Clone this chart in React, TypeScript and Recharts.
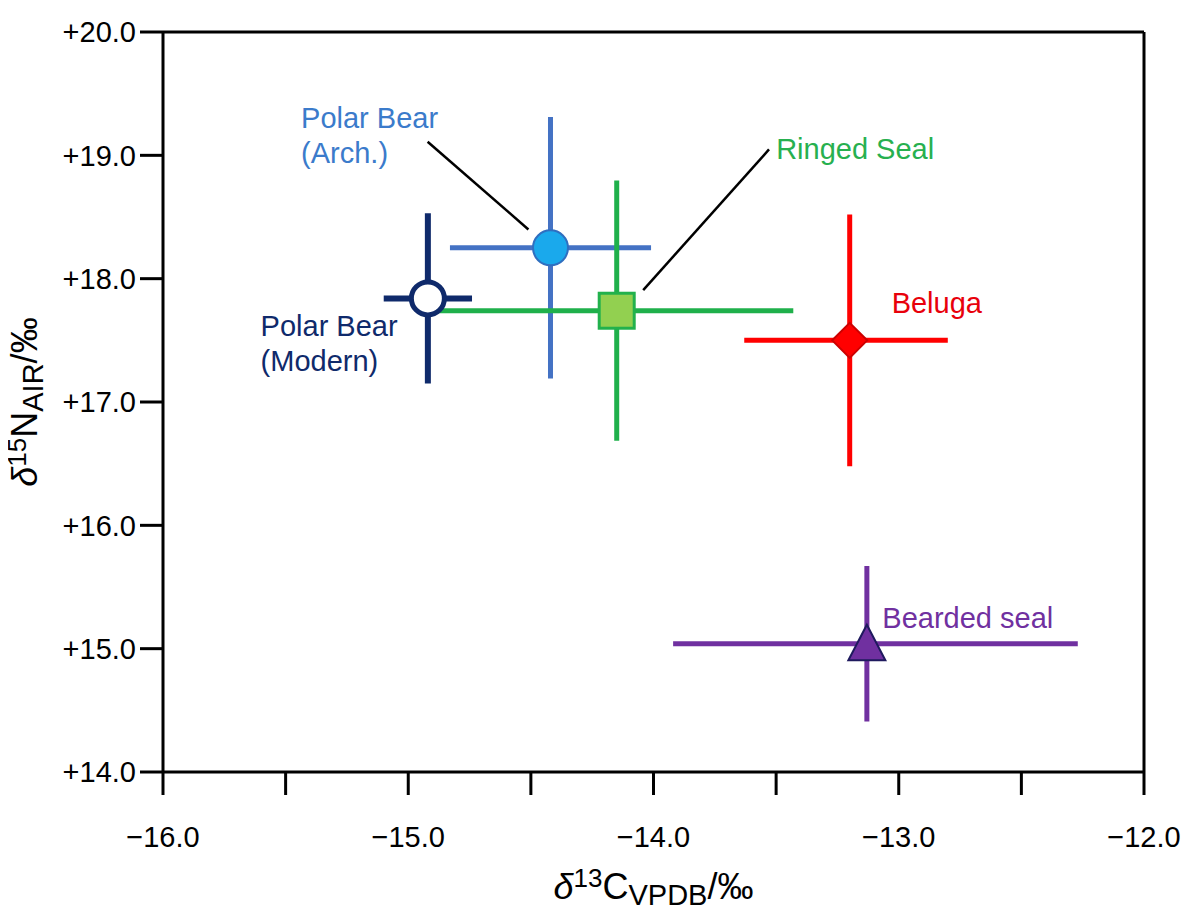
import React from 'react';
import { ScatterChart, Scatter, XAxis, YAxis, ErrorBar, ReferenceLine, ReferenceDot } from 'recharts';

// ---------- data ----------
const speciesNames = ['Polar Bear (Arch.)', 'Ringed Seal', 'Polar Bear (Modern)', 'Beluga', 'Bearded seal'];
const carbonMeans = [-14.42, -14.15, -14.92, -13.2, -13.13];
const carbonErrors: [number, number][] = [[0.41, 0.41], [0.74, 0.72], [0.18, 0.18], [0.43, 0.4], [0.79, 0.86]];
const nitrogenMeans = [18.25, 17.74, 17.84, 17.5, 15.04];
const nitrogenErrors = [1.06, 1.055, 0.69, 1.02, 0.63];

const xTicks = [-16, -15.5, -15, -14.5, -14, -13.5, -13, -12.5, -12];
const xTickLabels = ['−16.0', '', '−15.0', '', '−14.0', '', '−13.0', '', '−12.0'];
const yTicks = [14, 15, 16, 17, 18, 19, 20];
const yTickLabels = ['+14.0', '+15.0', '+16.0', '+17.0', '+18.0', '+19.0', '+20.0'];

// annotation text (first line anchor, data units)
const labelLines = [['Polar Bear', '(Arch.)'], ['Ringed Seal'], ['Polar Bear', '(Modern)'], ['Beluga'], ['Bearded seal']];
const labelX = [-15.437, -13.5, -15.602, -13.029, -13.067];
const labelY = [19.218, 18.969, 17.534, 17.718, 15.171];

// leader lines (data units)
const leaderFrom = [{ x: -14.921, y: 19.11 }, { x: -13.529, y: 19.048 }];
const leaderTo = [{ x: -14.51, y: 18.399 }, { x: -14.042, y: 17.907 }];

// ---------- styles ----------
const FONT = '"Liberation Sans", Arial, Helvetica, sans-serif';
type Kind = 'circle' | 'square' | 'diamond' | 'triangle';
const styles: { kind: Kind; bar: string; fill: string; stroke: string; sw: number; text: string; barW: number }[] = [
  { kind: 'circle', bar: '#4472c4', fill: '#1aa9ec', stroke: '#2f6fc0', sw: 2, text: '#3b7bcb', barW: 5 },
  { kind: 'square', bar: '#1fb04b', fill: '#92d050', stroke: '#22b14c', sw: 3, text: '#27b04f', barW: 5 },
  { kind: 'circle', bar: '#0f2a6b', fill: '#ffffff', stroke: '#0f2a6b', sw: 5, text: '#0f2a6b', barW: 6 },
  { kind: 'diamond', bar: '#ff0000', fill: '#ff0000', stroke: '#cc0000', sw: 2, text: '#e8000b', barW: 5 },
  { kind: 'triangle', bar: '#7030a0', fill: '#7030a0', stroke: '#1f1a5e', sw: 2, text: '#7030a0', barW: 5 },
];

const series = speciesNames.map((name, i) => ({
  name,
  data: [{ x: carbonMeans[i], y: nitrogenMeans[i], ex: carbonErrors[i], ey: nitrogenErrors[i] }],
}));

const Marker = (props: any) => {
  const { cx, cy, st } = props;
  if (cx == null || cy == null) return null;
  const common = { fill: st.fill, stroke: st.stroke, strokeWidth: st.sw };
  if (st.kind === 'circle') {
    const r = st.sw >= 4 ? 16.5 : 17.5;
    return <circle cx={cx} cy={cy} r={r} {...common} />;
  }
  if (st.kind === 'square') {
    const h = 17.5;
    return <rect x={cx - h} y={cy - h} width={2 * h} height={2 * h} {...common} />;
  }
  if (st.kind === 'diamond') {
    const d = 17.5;
    return <polygon points={`${cx},${cy - d} ${cx + d},${cy} ${cx},${cy + d} ${cx - d},${cy}`} {...common} />;
  }
  return <polygon points={`${cx},${cy - 19} ${cx + 18.5},${cy + 16.5} ${cx - 18.5},${cy + 16.5}`} {...common} />;
};

const XTitle = (props: any) => {
  const vb = props.viewBox || {};
  const cx = vb.x + vb.width / 2;
  const y = vb.y + vb.height - 10;
  return (
    <text x={cx} y={y} textAnchor="middle" fontFamily={FONT} fontSize={36} fill="#000">
      <tspan fontStyle="italic">δ</tspan>
      <tspan fontSize={26} dy={-12}>13</tspan>
      <tspan dy={12}>C</tspan>
      <tspan fontSize={29} dy={6}>VPDB</tspan>
      <tspan dy={-6}>/‰</tspan>
    </text>
  );
};

const YTitle = (props: any) => {
  const vb = props.viewBox || {};
  const cy = vb.y + vb.height / 2;
  const x = 29;
  return (
    <text x={x} y={cy} transform={`rotate(-90, ${x}, ${cy})`} textAnchor="middle" fontFamily={FONT} fontSize={36} fill="#000">
      <tspan fontStyle="italic">δ</tspan>
      <tspan fontSize={26} dy={-11}>15</tspan>
      <tspan dy={11}>N</tspan>
      <tspan fontSize={29} dy={6}>AIR</tspan>
      <tspan dy={-6}>/‰</tspan>
    </text>
  );
};

const axisLine = { stroke: '#000', strokeWidth: 3 };
const tickLine = { stroke: '#000', strokeWidth: 3 };
const tickStyle = { fill: '#000', fontSize: 29, fontFamily: FONT };

export default function App() {
  return (
    <div style={{ width: 1179, height: 901 }}>
      <style>{`body{margin:8px 0 0 8px}.recharts-surface{overflow:visible !important}`}</style>
      <ScatterChart width={1179} height={901} margin={{ top: 0, right: 0, bottom: 0, left: 0 }}>
        <XAxis
          xAxisId="b"
          type="number"
          dataKey="x"
          orientation="bottom"
          domain={[-16, -12]}
          ticks={xTicks}
          tickFormatter={(v: number) => xTickLabels[xTicks.indexOf(v)] ?? ''}
          height={137}
          tickSize={23}
          tickMargin={31}
          axisLine={axisLine}
          tickLine={tickLine}
          tick={tickStyle}
          allowDataOverflow
          interval={0}
          label={<XTitle />}
        />
        <XAxis
          xAxisId="t"
          type="number"
          orientation="top"
          domain={[-16, -12]}
          ticks={xTicks}
          height={24}
          tickSize={23}
          axisLine={axisLine}
          tickLine={tickLine}
          tick={false}
          allowDataOverflow
          interval={0}
        />
        <YAxis
          yAxisId="l"
          type="number"
          dataKey="y"
          orientation="left"
          domain={[14, 20]}
          ticks={yTicks}
          tickFormatter={(v: number) => yTickLabels[yTicks.indexOf(v)] ?? ''}
          width={155}
          tickSize={23}
          tickMargin={4}
          axisLine={axisLine}
          tickLine={tickLine}
          tick={tickStyle}
          allowDataOverflow
          interval={0}
          label={<YTitle />}
        />
        <YAxis
          yAxisId="r"
          type="number"
          orientation="right"
          domain={[14, 20]}
          ticks={yTicks}
          width={43}
          tickSize={23}
          axisLine={axisLine}
          tickLine={tickLine}
          tick={false}
          allowDataOverflow
          interval={0}
        />

        {series.map((s, i) => (
          <Scatter
            key={s.name}
            name={s.name}
            data={s.data}
            xAxisId="b"
            yAxisId="l"
            isAnimationActive={false}
            shape={(p: any) => <Marker {...p} st={styles[i]} />}
          >
            <ErrorBar dataKey="ex" direction="x" width={0} stroke={styles[i].bar} strokeWidth={styles[i].barW} isAnimationActive={false} />
            <ErrorBar dataKey="ey" direction="y" width={0} stroke={styles[i].bar} strokeWidth={styles[i].barW} isAnimationActive={false} />
          </Scatter>
        ))}

        {leaderFrom.map((f, i) => (
          <ReferenceLine
            key={`lead${i}`}
            xAxisId="b"
            yAxisId="l"
            segment={[f, leaderTo[i]]}
            stroke="#000"
            strokeWidth={2.5}
          />
        ))}

        {labelLines.map((lines, i) => (
          <ReferenceDot
            key={`lab${i}`}
            xAxisId="b"
            yAxisId="l"
            x={labelX[i]}
            y={labelY[i]}
            r={0}
            shape={(p: any) => (
              <text x={p.cx} y={p.cy} fontFamily={FONT} fontSize={29} fill={styles[i].text}>
                {lines.map((ln, k) => (
                  <tspan key={k} x={p.cx} dy={k === 0 ? 0 : 35}>{ln}</tspan>
                ))}
              </text>
            )}
          />
        ))}
      </ScatterChart>
    </div>
  );
}
